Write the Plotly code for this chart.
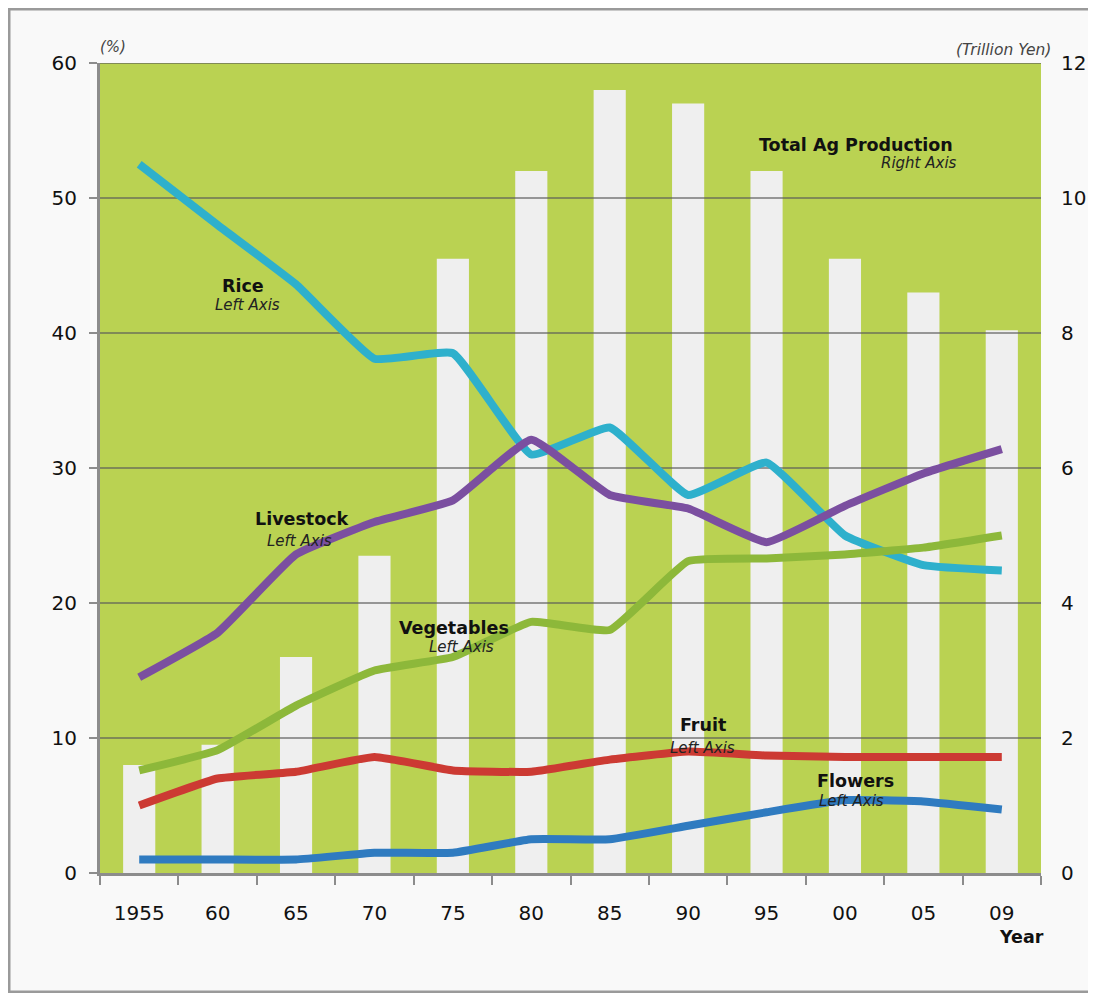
import plotly.graph_objects as go

# ---------------- data ----------------
years = ["1955", "60", "65", "70", "75", "80", "85", "90", "95", "00", "05", "09"]
total_ag = [1.6, 1.9, 3.2, 4.7, 9.1, 10.4, 11.6, 11.4, 10.4, 9.1, 8.6, 8.04]   # trillion yen (right axis)
rice = [52.5, 48.0, 43.6, 38.1, 38.5, 31.0, 33.0, 28.0, 30.4, 25.0, 22.8, 22.4]
livestock = [14.5, 17.8, 23.6, 26.0, 27.6, 32.1, 28.0, 27.0, 24.5, 27.2, 29.6, 31.4]
vegetables = [7.6, 9.1, 12.4, 15.0, 16.0, 18.6, 18.0, 23.1, 23.3, 23.6, 24.1, 25.0]
fruit = [5.0, 7.0, 7.5, 8.6, 7.6, 7.5, 8.4, 9.0, 8.7, 8.6, 8.6, 8.6]
flowers = [1.0, 1.0, 1.0, 1.5, 1.5, 2.5, 2.5, 3.5, 4.5, 5.4, 5.3, 4.7]
left_ticks = [0, 10, 20, 30, 40, 50, 60]
right_ticks = [0, 2, 4, 6, 8, 10, 12]

# ---------------- styles ----------------
FONT = "DejaVu Sans"
PLOT_BG = "#BAD252"
BAR_COL = "#EFEFEF"
GRID_COL = "rgba(90,90,90,0.6)"
AXIS_COL = "#8C8C8C"
OFF = 8                      # page body margin
W, H = 1080, 985
PL, PR, PT, PB = 100 - OFF, 1041 - OFF, 63 - OFF, 873 - OFF

def fx(px):  # reference pixel -> paper fraction
    return (px - OFF - PL) / (PR - PL)

def fy(py):
    return (PB - (py - OFF)) / (PB - PT)

fig = go.Figure()

# bars on base subplot (right axis)
fig.add_trace(go.Bar(x=years, y=total_ag, marker=dict(color=BAR_COL, line=dict(width=0)),
                     width=0.41, xaxis="x", yaxis="y", showlegend=False, hoverinfo="skip"))

# gridlines drawn above bars (from left-axis tick values)
gx, gy = [], []
for t in left_ticks[1:]:
    gx += [0, 1, None]
    gy += [t, t, None]
fig.add_trace(go.Scatter(x=gx, y=gy, mode="lines", line=dict(color=GRID_COL, width=2),
                         xaxis="x2", yaxis="y2", showlegend=False, hoverinfo="skip"))

series = [
    ("Rice", rice, "#2EB0CC"),
    ("Livestock", livestock, "#7B4FA0"),
    ("Vegetables", vegetables, "#8DB83A"),
    ("Fruit", fruit, "#CC3A33"),
    ("Flowers", flowers, "#2F7BC0"),
]
for name, vals, col in series:
    fig.add_trace(go.Scatter(x=years, y=vals, mode="lines", name=name,
                             line=dict(color=col, width=8, shape="spline", smoothing=0.35),
                             xaxis="x3", yaxis="y3", showlegend=False))

tickfont = dict(family=FONT, size=20, color="#111111")

fig.update_layout(
    width=W, height=H, autosize=False,
    margin=dict(l=PL, r=W - PR, t=PT, b=H - PB, pad=0, autoexpand=False),
    paper_bgcolor="#F9F9F9",
    plot_bgcolor=PLOT_BG,
    bargap=0.59,
    font=dict(family=FONT, color="#111111"),
    xaxis=dict(type="category", categoryorder="array", categoryarray=years,
               range=[-0.5, len(years) - 0.5], tickson="boundaries",
               ticks="outside", ticklen=9, tickwidth=2, tickcolor=AXIS_COL,
               showline=True, linecolor=AXIS_COL, linewidth=3, showgrid=False,
               tickfont=tickfont, ticklabelstandoff=20, anchor="y", zeroline=False,
               automargin=False),
    yaxis=dict(side="right", range=[0, 12], tickvals=right_ticks, showgrid=False,
               zeroline=False, showline=False, ticks="", tickfont=tickfont,
               ticklabelstandoff=19, anchor="x", automargin=False),
    xaxis2=dict(overlaying="x", range=[0, 1], visible=False, anchor="y2", automargin=False),
    yaxis2=dict(overlaying="y", range=[0, 60], visible=False, anchor="x2", automargin=False),
    xaxis3=dict(overlaying="x", type="category", categoryorder="array", categoryarray=years,
                range=[-0.5, len(years) - 0.5], visible=False, anchor="y3", automargin=False),
    yaxis3=dict(overlaying="y", side="left", range=[0, 60], tickvals=left_ticks,
                showgrid=False, zeroline=False, showline=True, linecolor=AXIS_COL, linewidth=3,
                ticks="outside", ticklen=8, tickwidth=2, tickcolor=AXIS_COL,
                tickfont=tickfont, ticklabelstandoff=8, anchor="x3", automargin=False),
)

# page border (top, left, bottom; right side runs off the page)
fig.add_shape(type="rect", xref="paper", yref="paper", layer="below",
              x0=fx(9), x1=fx(1120), y0=fy(992), y1=fy(9),
              line=dict(color="#9A9A9A", width=3), fillcolor="rgba(0,0,0,0)")

annos = []
def lab(text, px, py, size, bold=False, italic=False, xanchor="center", color="#111111"):
    t = text
    if bold:
        t = "<b>" + t + "</b>"
    if italic:
        t = "<i>" + t + "</i>"
    annos.append(dict(text=t, x=fx(px), y=fy(py), xref="paper", yref="paper",
                      xanchor=xanchor, yanchor="middle", showarrow=False,
                      font=dict(family=FONT, size=size, color=color)))

for name, (nx, ny), (lx, ly) in [
    ("Rice", (243, 286), (247, 305)),
    ("Livestock", (302, 519), (299, 541)),
    ("Vegetables", (454, 628), (461, 647)),
    ("Fruit", (703, 725), (702, 748)),
    ("Flowers", (855, 781), (851, 801)),
]:
    lab(name, nx, ny, 17.5, bold=True)
    lab("Left Axis", lx, ly, 15, italic=True, color="#222222")

lab("Total Ag Production", 856, 145, 17.5, bold=True)
lab("Right Axis", 959, 163, 15, italic=True, xanchor="right", color="#222222")
lab("(%)", 113, 47, 15, italic=True, color="#444444")
lab("(Trillion Yen)", 1053, 50, 15.5, italic=True, xanchor="right", color="#444444")
lab("Year", 1021, 937, 17.5, bold=True)

fig.update_layout(annotations=annos)
fig.write_html("out.html")
